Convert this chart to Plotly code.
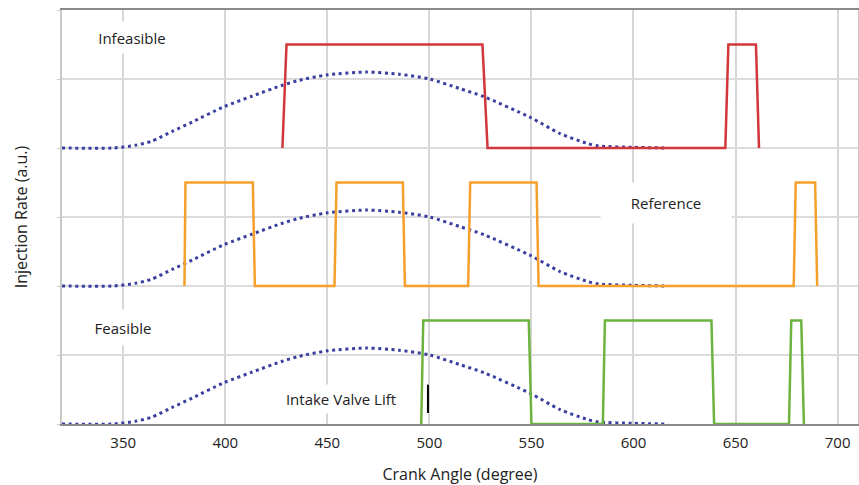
import plotly.graph_objects as go

# Intake valve lift profile (a.u., relative to each panel's baseline)
lift_x = [320, 345, 356, 364, 374, 384, 399.5, 413, 428, 436, 450, 469, 485, 500, 515, 527, 549, 564, 577, 583, 600, 617]
lift_y = [0.0, 0.0, 0.04, 0.10, 0.24, 0.38, 0.60, 0.75, 0.91, 0.98, 1.06, 1.10, 1.07, 1.0, 0.86, 0.74, 0.45, 0.21, 0.07, 0.03, 0.01, 0.0]

# Panel baselines
base_infeasible = 4.0
base_reference = 2.0
base_feasible = 0.0

# Injection profiles (crank angle, injection level relative to baseline)
inf_x = [428, 430, 526, 528.5, 645, 646.5, 660, 661.5]
inf_y = [0, 1.5, 1.5, 0, 0, 1.5, 1.5, 0]

ref_x = [380, 380.5, 413.5, 414.5, 453.5, 454.5, 487, 488, 519, 520, 552.5, 553.5, 678.5, 679.5, 689, 690]
ref_y = [0, 1.5, 1.5, 0, 0, 1.5, 1.5, 0, 0, 1.5, 1.5, 0, 0, 1.5, 1.5, 0]

fea_x = [496, 497, 548.7, 550, 585, 586, 638.2, 639.5, 676.2, 677.3, 682.2, 683.5]
fea_y = [0, 1.5, 1.5, 0, 0, 1.5, 1.5, 0, 0, 1.5, 1.5, 0]

x_ticks = [350, 400, 450, 500, 550, 600, 650, 700]
y_grid = [0, 1, 2, 3, 4, 5, 6]

LIFT_COLOR = "#3a3f9f"
fig = go.Figure()

for base in (base_infeasible, base_reference, base_feasible):
    fig.add_trace(go.Scatter(
        x=lift_x, y=[v + base for v in lift_y], mode="lines",
        line=dict(color=LIFT_COLOR, width=3, dash="3px,3.6px", shape="spline", smoothing=0.7),
        showlegend=False, hoverinfo="skip"))

fig.add_trace(go.Scatter(x=inf_x, y=[v + base_infeasible for v in inf_y], mode="lines",
                         line=dict(color="#d2363a", width=2.5), showlegend=False))
fig.add_trace(go.Scatter(x=ref_x, y=[v + base_reference for v in ref_y], mode="lines",
                         line=dict(color="#f5a02a", width=2.5), showlegend=False))
fig.add_trace(go.Scatter(x=fea_x, y=[v + base_feasible for v in fea_y], mode="lines",
                         line=dict(color="#6cb33f", width=2.5), showlegend=False))

FONT = "Open Sans"
ann_font = dict(family=FONT, size=15, color="#222")

def label(text, x, y, w, h):
    fig.add_annotation(x=x, y=y, text=text, showarrow=False, font=ann_font,
                       bgcolor="white", borderpad=0, width=w, height=h,
                       xanchor="center", yanchor="middle")

label("Infeasible", 354.5, 5.60, 116, 31)
label("Reference", 616, 3.20, 130, 40)
label("Feasible", 349.8, 1.40, 96, 35)
label("Intake Valve Lift", 456.9, 0.36, 146, 28)

# cursor mark next to the label
fig.add_shape(type="line", x0=499.3, x1=499.3, y0=0.16, y1=0.57,
              line=dict(color="black", width=2))

fig.update_layout(
    width=859, height=485,
    margin=dict(l=62, r=1, t=10, b=61),
    plot_bgcolor="white", paper_bgcolor="white",
    font=dict(family=FONT, size=14, color="#222"),
)
fig.update_xaxes(
    range=[320, 710], tickvals=x_ticks, ticktext=[str(t) for t in x_ticks],
    showgrid=True, gridcolor="#d6d6d6", gridwidth=2,
    showline=True, linecolor="#8a8a8a", linewidth=2, mirror=True,
    ticks="", ticklabelstandoff=4, tickfont=dict(size=15, family=FONT, color="#222"),
    title=dict(text="Crank Angle (degree)", font=dict(size=16, family=FONT, color="#222"), standoff=20),
    zeroline=False, automargin=False,
)
fig.update_yaxes(
    range=[0, 6], tickvals=y_grid, showticklabels=False,
    showgrid=True, gridcolor="#dcdcdc", gridwidth=1.5,
    showline=True, linecolor="#c8c8c8", linewidth=1.5, mirror=True,
    ticks="outside", ticklen=3, tickcolor="#c8c8c8",
    title=dict(text="Injection Rate (a.u.)", font=dict(size=16, family=FONT, color="#222"), standoff=26),
    zeroline=False, automargin=False,
)

fig.write_html("out.html", config={"displayModeBar": False},
               post_script="document.body.style.margin='0';document.body.style.overflow='hidden';")
